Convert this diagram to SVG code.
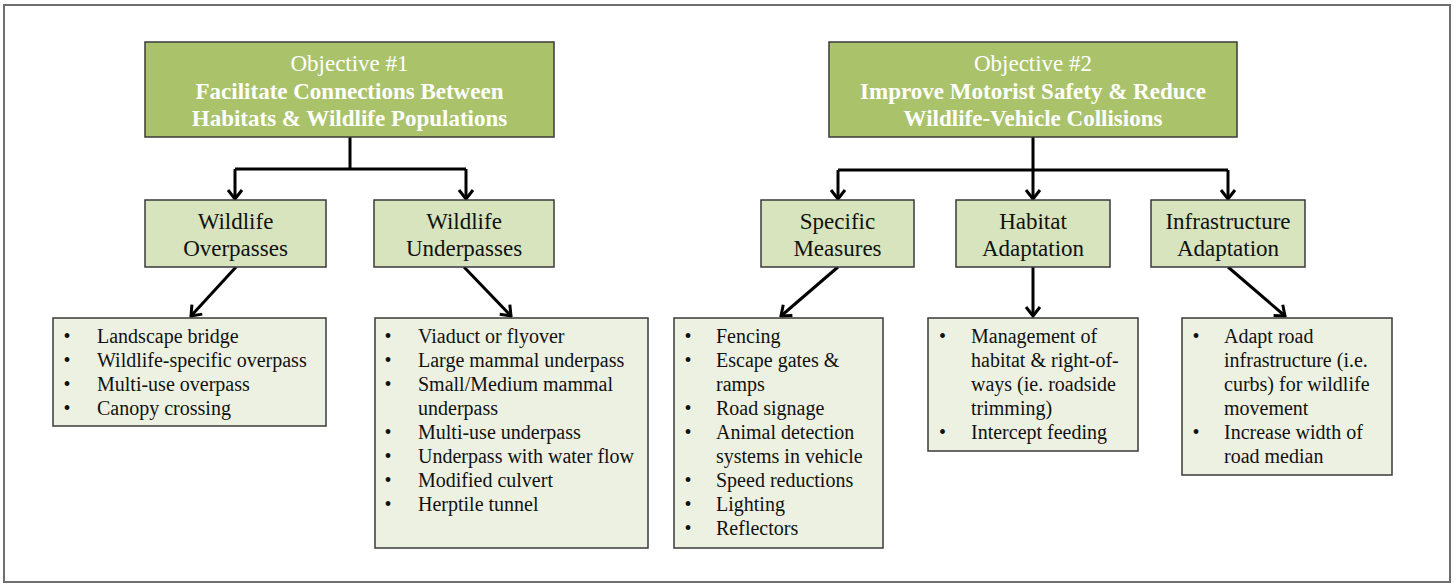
<svg xmlns="http://www.w3.org/2000/svg" width="1456" height="584" viewBox="0 0 1456 584">
<defs>
<style>
.frame{fill:#ffffff;stroke:#6e6e6e;stroke-width:2}
.obj{fill:#AAC36B;stroke:#3a3a3a;stroke-width:1.5}
.sub{fill:#D7E4BD;stroke:#3a3a3a;stroke-width:1.5}
.lst{fill:#EDF1E2;stroke:#3a3a3a;stroke-width:1.5}
.ot{font-family:"Liberation Serif","Times New Roman",serif;font-size:23px;fill:#ffffff;text-anchor:middle}
.ob{font-weight:bold}
.st{font-family:"Liberation Serif","Times New Roman",serif;font-size:23px;fill:#111111;text-anchor:middle}
.lt{font-family:"Liberation Serif","Times New Roman",serif;font-size:20px;fill:#111111}
.bu{text-anchor:middle}
.con{fill:none;stroke:#000000;stroke-width:3}
</style>
<marker id="arr" markerUnits="userSpaceOnUse" viewBox="-12 -10 14 20" refX="0" refY="0" markerWidth="14" markerHeight="20" orient="auto">
<path d="M-9,-7 L0,0 L-9,7" fill="none" stroke="#000000" stroke-width="3" stroke-linejoin="miter"/>
</marker>
</defs>
<rect class="frame" x="4" y="5" width="1446" height="577"/>

<g id="connectors">
<path class="con" d="M350,137 V169 M235,169 H466"/>
<path class="con" d="M235,169 V199" marker-end="url(#arr)"/>
<path class="con" d="M466,169 V199" marker-end="url(#arr)"/>
<path class="con" d="M1033,137 V170 M838,170 H1228"/>
<path class="con" d="M838,170 V199" marker-end="url(#arr)"/>
<path class="con" d="M1033,170 V199" marker-end="url(#arr)"/>
<path class="con" d="M1228,170 V199" marker-end="url(#arr)"/>
<path class="con" d="M236,267 L191,316" marker-end="url(#arr)"/>
<path class="con" d="M464,267 L511,316" marker-end="url(#arr)"/>
<path class="con" d="M838,267 L781,316" marker-end="url(#arr)"/>
<path class="con" d="M1033,267 V316" marker-end="url(#arr)"/>
<path class="con" d="M1228,267 L1285,316" marker-end="url(#arr)"/>
</g>

<g id="objective1">
<rect class="obj" x="145" y="42" width="409" height="95"/>
<text class="ot" x="349.5" y="71">Objective #1</text>
<text class="ot ob" x="349.5" y="98.5">Facilitate Connections Between</text>
<text class="ot ob" x="349.5" y="126">Habitats &amp; Wildlife Populations</text>
</g>

<g id="objective2">
<rect class="obj" x="829" y="42" width="408" height="95"/>
<text class="ot" x="1033" y="71">Objective #2</text>
<text class="ot ob" x="1033" y="98.5">Improve Motorist Safety &amp; Reduce</text>
<text class="ot ob" x="1033" y="126">Wildlife-Vehicle Collisions</text>
</g>

<g id="overpasses">
<rect class="sub" x="145" y="200" width="181" height="67"/>
<text class="st" x="235.5" y="229">Wildlife</text>
<text class="st" x="235.5" y="256">Overpasses</text>
</g>

<g id="underpasses">
<rect class="sub" x="374" y="200" width="180" height="67"/>
<text class="st" x="464" y="229">Wildlife</text>
<text class="st" x="464" y="256">Underpasses</text>
</g>

<g id="specific">
<rect class="sub" x="761" y="200" width="153" height="67"/>
<text class="st" x="837.5" y="229">Specific</text>
<text class="st" x="837.5" y="256">Measures</text>
</g>

<g id="habitat">
<rect class="sub" x="956" y="200" width="154" height="67"/>
<text class="st" x="1033" y="229">Habitat</text>
<text class="st" x="1033" y="256">Adaptation</text>
</g>

<g id="infrastructure">
<rect class="sub" x="1151" y="200" width="154" height="67"/>
<text class="st" x="1228" y="229">Infrastructure</text>
<text class="st" x="1228" y="256">Adaptation</text>
</g>

<g id="overpasses-list">
<rect class="lst" x="53" y="318" width="273" height="108"/>
<text class="lt bu" x="67" y="343">•</text><text class="lt" x="97" y="343">Landscape bridge</text>
<text class="lt bu" x="67" y="367">•</text><text class="lt" x="97" y="367">Wildlife-specific overpass</text>
<text class="lt bu" x="67" y="391">•</text><text class="lt" x="97" y="391">Multi-use overpass</text>
<text class="lt bu" x="67" y="415">•</text><text class="lt" x="97" y="415">Canopy crossing</text>
</g>

<g id="underpasses-list">
<rect class="lst" x="375" y="318" width="273" height="230"/>
<text class="lt bu" x="388" y="343">•</text><text class="lt" x="418" y="343">Viaduct or flyover</text>
<text class="lt bu" x="388" y="367">•</text><text class="lt" x="418" y="367">Large mammal underpass</text>
<text class="lt bu" x="388" y="391">•</text><text class="lt" x="418" y="391">Small/Medium mammal</text>
<text class="lt" x="418" y="415">underpass</text>
<text class="lt bu" x="388" y="439">•</text><text class="lt" x="418" y="439">Multi-use underpass</text>
<text class="lt bu" x="388" y="463">•</text><text class="lt" x="418" y="463">Underpass with water flow</text>
<text class="lt bu" x="388" y="487">•</text><text class="lt" x="418" y="487">Modified culvert</text>
<text class="lt bu" x="388" y="511">•</text><text class="lt" x="418" y="511">Herptile tunnel</text>
</g>

<g id="specific-list">
<rect class="lst" x="674" y="318" width="209" height="230"/>
<text class="lt bu" x="688" y="343">•</text><text class="lt" x="716" y="343">Fencing</text>
<text class="lt bu" x="688" y="367">•</text><text class="lt" x="716" y="367">Escape gates &amp;</text>
<text class="lt" x="716" y="391">ramps</text>
<text class="lt bu" x="688" y="415">•</text><text class="lt" x="716" y="415">Road signage</text>
<text class="lt bu" x="688" y="439">•</text><text class="lt" x="716" y="439">Animal detection</text>
<text class="lt" x="716" y="463">systems in vehicle</text>
<text class="lt bu" x="688" y="487">•</text><text class="lt" x="716" y="487">Speed reductions</text>
<text class="lt bu" x="688" y="511">•</text><text class="lt" x="716" y="511">Lighting</text>
<text class="lt bu" x="688" y="535">•</text><text class="lt" x="716" y="535">Reflectors</text>
</g>

<g id="habitat-list">
<rect class="lst" x="928" y="318" width="210" height="133"/>
<text class="lt bu" x="942.5" y="343">•</text><text class="lt" x="971" y="343">Management of</text>
<text class="lt" x="971" y="367">habitat &amp; right-of-</text>
<text class="lt" x="971" y="391">ways (ie. roadside</text>
<text class="lt" x="971" y="415">trimming)</text>
<text class="lt bu" x="942.5" y="439">•</text><text class="lt" x="971" y="439">Intercept feeding</text>
</g>

<g id="infrastructure-list">
<rect class="lst" x="1182" y="318" width="210" height="157"/>
<text class="lt bu" x="1196" y="343">•</text><text class="lt" x="1224" y="343">Adapt road</text>
<text class="lt" x="1224" y="367">infrastructure (i.e.</text>
<text class="lt" x="1224" y="391">curbs) for wildlife</text>
<text class="lt" x="1224" y="415">movement</text>
<text class="lt bu" x="1196" y="439">•</text><text class="lt" x="1224" y="439">Increase width of</text>
<text class="lt" x="1224" y="463">road median</text>
</g>
</svg>
